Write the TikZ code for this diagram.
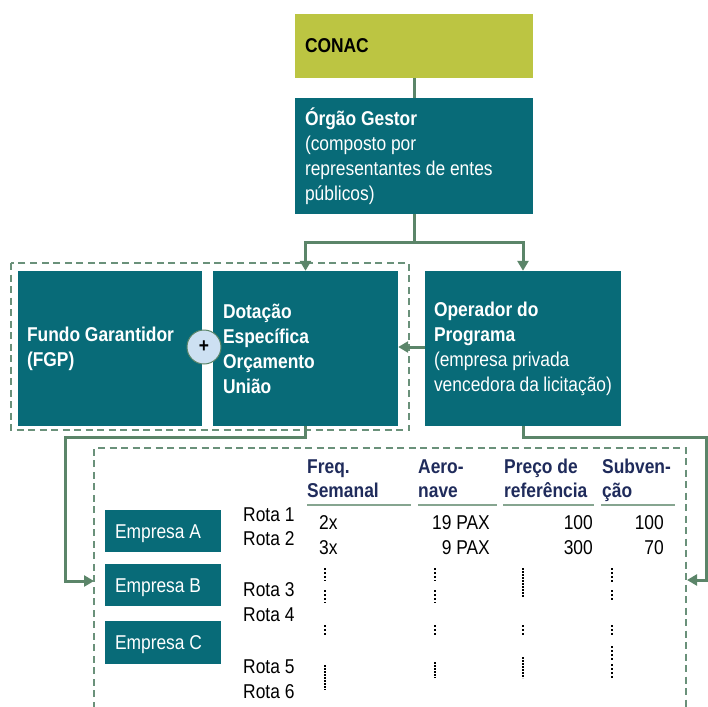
\documentclass[tikz,border=0pt]{standalone}
\usepackage{fontspec}
\setmainfont{Liberation Sans}[FakeStretch=0.87]
\usetikzlibrary{arrows.meta}

\definecolor{boxteal}{HTML}{086B78}
\definecolor{conacgreen}{HTML}{BCC542}
\definecolor{linkgreen}{HTML}{5B8569}
\definecolor{dashgreen}{HTML}{6A917A}
\definecolor{rulegreen}{HTML}{86A590}
\definecolor{headnavy}{HTML}{1F2B5B}
\definecolor{plusblue}{HTML}{CDE0F2}

\tikzset{
  txt/.style={font=\fontsize{20}{25}\selectfont},
  tealbox/.style={rectangle, fill=boxteal, text=white, inner xsep=10pt,
    inner ysep=0pt, align=flush left, txt},
  firmbox/.style={tealbox, minimum width=116pt, text width=96pt,
    text height=14pt, text depth=0pt},
  link/.style={draw=linkgreen, line width=3pt},
  linkarrow/.style={link, -{Triangle[length=10pt,width=11pt]}},
  groupframe/.style={draw=dashgreen, line width=1.6pt, dash pattern=on 7pt off 4.5pt},
  colhead/.style={txt, font=\fontsize{20}{25}\selectfont\bfseries, text=headnavy,
    anchor=base west, inner sep=0pt},
  cell/.style={txt, anchor=base west, inner sep=0pt},
  cellr/.style={cell, anchor=base east},
  headrule/.style={draw=rulegreen, line width=1.5pt},
  dotrun/.style={line width=1.9pt, dash pattern=on 1.8pt off 2.3pt},
  dotrundense/.style={line width=1.9pt, dash pattern=on 1.8pt off 1.2pt},
}

\begin{document}
\begin{tikzpicture}[x=1pt,y=-1pt]
\useasboundingbox (0,0) rectangle (708,706);
\clip (0,0) rectangle (708,706);

% --- upper hierarchy ---
\node[tealbox, fill=conacgreen, text=black, minimum width=238pt, text width=218pt,
  text height=14pt, text depth=0pt, minimum height=64pt] (conac) at (414,46) {\textbf{CONAC}};
\node[tealbox, minimum width=238pt, text width=218pt, minimum height=116pt]
  (gestor) at (414,156)
  {\textbf{Órgão Gestor}\\(composto por\\representantes de entes\\públicos)};

% --- funding group ---
\draw[groupframe] (11,263) rectangle (409,430);
\node[tealbox, inner xsep=9pt, minimum width=184pt, text width=166pt, minimum height=155pt]
  (fundo) at (110,348.5) {\textbf{Fundo Garantidor}\\\textbf{(FGP)}};
\node[tealbox, minimum width=185pt, text width=165pt, minimum height=155pt]
  (dotacao) at (305.5,348.5)
  {\textbf{Dotação}\\\textbf{Específica}\\\textbf{Orçamento}\\\textbf{União}};
\node[circle, draw=linkgreen, line width=1pt, fill=plusblue, minimum size=34pt,
  inner sep=0pt, txt, font=\fontsize{20}{25}\selectfont\bfseries] (plus) at (204,347) {+};

\node[tealbox, inner xsep=9pt, minimum width=196pt, text width=178pt, minimum height=155pt]
  (operador) at (523,348.5)
  {\textbf{Operador do}\\\textbf{Programa}\\(empresa privada\\vencedora da licitação)};

% --- connectors ---
\coordinate (split) at (414,242);
\draw[link] (conac.south) -- (gestor.north);
\draw[link] (gestor.south) -- (split);
\draw[linkarrow] (split) -| (dotacao.north);
\draw[linkarrow] (split) -| (operador.north);
\draw[linkarrow] (operador.west |- plus) -- (dotacao.east |- plus);

\coordinate (leftbend) at (65,437);
\coordinate (tableleft) at (94,581);
\coordinate (rightbend) at (706,437);
\coordinate (tableright) at (687,580);
\draw[linkarrow] (dotacao.south) |- (leftbend) |- (tableleft);
\draw[linkarrow] (operador.south) |- (rightbend) |- (tableright);

% --- route table frame ---
\draw[groupframe] (94,720) -- (94,448) -- (686,448) -- (686,720);

\node[firmbox, minimum height=42pt] (empA) at (163,531) {Empresa A};
\node[firmbox, minimum height=42pt] (empB) at (163,585) {Empresa B};
\node[firmbox, minimum height=43pt] (empC) at (163,642.5) {Empresa C};

% column headings
\node[colhead] (hfreqA) at (307,473.5) {Freq.};
\node[colhead] (hfreqB) at (307,497.5) {Semanal};
\node[colhead] (haeroA) at (418,473.5) {Aero-};
\node[colhead] (haeroB) at (418,497.5) {nave};
\node[colhead] (hprecoA) at (504,473.5) {Preço de};
\node[colhead] (hprecoB) at (504,497.5) {referência};
\node[colhead] (hsubA) at (602,473.5) {Subven-};
\node[colhead] (hsubB) at (602,497.5) {ção};
\draw[headrule] (307,505) -- (411,505);
\draw[headrule] (418,505) -- (497,505);
\draw[headrule] (503,505) -- (594,505);
\draw[headrule] (601,505) -- (675,505);

% routes
\node[cell] (rota1) at (243,521) {Rota 1};
\node[cell] (rota2) at (243,545) {Rota 2};
\node[cell] (rota3) at (243,596.5) {Rota 3};
\node[cell] (rota4) at (243,621.5) {Rota 4};
\node[cell] (rota5) at (243,673) {Rota 5};
\node[cell] (rota6) at (243,698) {Rota 6};

% values
\node[cell] (freq1) at (319,529) {2x};
\node[cell] (freq2) at (319,554) {3x};
\node[cellr] (aero1) at (490,529) {19 PAX};
\node[cellr] (aero2) at (490,554) {9 PAX};
\node[cellr] (preco1) at (593,529) {100};
\node[cellr] (preco2) at (593,554) {300};
\node[cellr] (sub1) at (664,529) {100};
\node[cellr] (sub2) at (664,554) {70};

% continuation dots
\draw[dotrun] (325,568) -- (325,581);
\draw[dotrun] (325,590) -- (325,603);
\draw[dotrun] (325,625) -- (325,637);
\draw[dotrundense] (325,665) -- (325,690);

\draw[dotrun] (435,568) -- (435,581);
\draw[dotrun] (435,590) -- (435,603);
\draw[dotrun] (435,625) -- (435,637);
\draw[dotrundense] (435,662) -- (435,678);

\draw[dotrundense] (523,568) -- (523,597);
\draw[dotrun] (523,625) -- (523,637);
\draw[dotrundense] (523,657) -- (523,678);

\draw[dotrun] (612,568) -- (612,582);
\draw[dotrun] (612,590) -- (612,602);
\draw[dotrun] (612,625) -- (612,637);
\draw[dotrun] (612,646) -- (612,660);
\draw[dotrun] (612,664) -- (612,678);
\end{tikzpicture}
\end{document}
